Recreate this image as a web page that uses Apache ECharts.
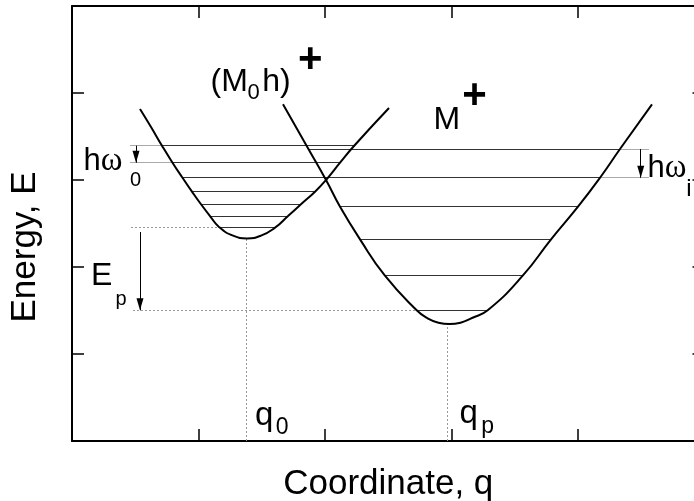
<!DOCTYPE html>
<html>
<head>
<meta charset="utf-8">
<script src="https://cdn.jsdelivr.net/npm/echarts@6/dist/echarts.min.js"></script>
<style>html,body{margin:0;padding:0;background:#fff}#c{width:694px;height:501px}</style>
</head>
<body>
<div id="c"></div>
<script>
// ---- potential curves (coordinate q, energy E) ----
const curveM0hX = [0.5375,0.6245,0.7115,0.7945,0.8735,0.9486,1.0198,1.0909,1.1621,1.273,1.383,1.494,1.605,1.7075,1.810,1.921,2.008,2.119,2.229,2.506];
const curveM0hY = [3.816,3.609,3.394,3.199,3.026,2.866,2.721,2.586,2.460,2.360,2.329,2.360,2.452,2.586,2.721,2.866,3.0,3.199,3.391,3.828];
const curveMX = [1.668,1.869,2.008,2.119,2.277,2.474,2.725,2.806,2.897,2.984,3.071,3.162,3.286,3.563,3.787,4.0,4.174,4.332,4.585];
const curveMY = [3.870,3.356,3.0,2.693,2.318,1.900,1.502,1.414,1.360,1.345,1.360,1.414,1.502,1.900,2.318,2.693,3.026,3.356,3.870];

// ---- vibrational levels: energy, q start, q end ----
const levelE  = [3.394,3.199,3.026,2.866,2.721,2.586,2.452,3.356,2.693,2.318,1.900,1.502];
const levelQ1 = [0.7115,0.7945,0.8735,0.9486,1.0198,1.0909,1.1621,1.869,2.119,2.277,2.474,2.725];
const levelQ2 = [2.229,2.119,4.174,1.921,1.810,1.7075,1.605,4.332,4.0,3.787,3.563,3.286];

// ---- marker extension lines (quanta) ----
const extE  = [3.394,3.199,3.356,3.026];
const extQ1 = [0.4585,0.4585,4.332,4.174];
const extQ2 = [0.7115,0.7945,4.561,4.561];

// ---- dotted guides: [q1,E1,q2,E2] ----
const guideQ1 = [0.4664,0.482,1.3755,2.970];
const guideE1 = [2.452,1.502,0,0];
const guideQ2 = [1.1621,2.725,1.3755,2.970];
const guideE2 = [2.452,1.502,2.329,1.345];

// ---- arrows: q, from E, to E ----
const arrowQ = [0.506,4.496,0.5375];
const arrowFrom = [3.394,3.356,2.402];
const arrowTo = [3.199,3.026,1.502];

// ---- annotations ----
const labelText = ['(M','0','h)','+','M','+','hω','0','hω','i','E','p','q','0','q','p'];
const labelQ = [1.099,1.391,1.508,1.790,2.862,3.089,0.0949,0.4625,4.553,4.860,0.154,0.348,1.4506,1.615,3.067,3.240];
const labelE = [4.121,4.000,4.121,4.374,3.684,3.956,3.207,2.983,3.126,2.885,1.891,1.616,0.277,0.150,0.309,0.160];
const labelRole = ['big','subm','big','plus','big','plus','hw','sub','hw','subi','big','sub','q','subq','q','subq'];

const FONT = '"Liberation Sans", Arial, sans-serif';
const roleStyle = {
  big:  {fontSize:32},
  sub:  {fontSize:20},
  subm: {fontSize:22},
  subi: {fontSize:24},
  q:    {fontSize:33},
  subq: {fontSize:23},
  plus: {fontSize:42, fontWeight:'bold'},
  hw:   {fontSize:31}
};

const chart = echarts.init(document.getElementById('c'));

const zip = (a,b) => a.map((v,i)=>[v,b[i]]);

const levelData = levelE.map((e,i)=>({coords:[[levelQ1[i],e],[levelQ2[i],e]]}));
const extData = extE.map((e,i)=>({coords:[[extQ1[i],e],[extQ2[i],e]]}));
const guideData = guideQ1.map((q,i)=>({coords:[[q,guideE1[i]],[guideQ2[i],guideE2[i]]]}));
const shaftData = arrowQ.map((q,i)=>({coords:[[q,arrowFrom[i]],[q,arrowTo[i]]]}));
const headData = arrowQ.map((q,i)=>[q,arrowTo[i]]);

const labelData = labelText.map((t,i)=>{
  const role = labelRole[i];
  const lab = Object.assign({show:true, position:[0,0], align:'left', verticalAlign:'middle', color:'#000', fontFamily:FONT}, roleStyle[role]);
  if (role === 'hw') {
    lab.formatter = '{h|' + t[0] + '}{w|' + t.slice(1) + '}';
    lab.rich = {h:{fontSize:31, fontFamily:FONT, color:'#000'}, w:{fontSize:33, fontFamily:'"Liberation Serif", serif', color:'#000'}};
  } else {
    lab.formatter = t;
  }
  return {value:[labelQ[i], labelE[i]], label:lab};
});

const axisCommon = {
  type:'value', min:0, max:5, interval:1,
  axisLine:{show:true, onZero:false, lineStyle:{color:'#000', width:2}},
  axisTick:{show:true, inside:true, length:12, lineStyle:{color:'#000', width:1.5}},
  axisLabel:{show:false},
  splitLine:{show:false}
};

chart.setOption({
  backgroundColor:'#fff',
  animation:false,
  grid:{left:72, top:6, width:632.5, height:435, containLabel:false, outerBoundsMode:'none'},
  xAxis:[
    Object.assign({}, axisCommon, {position:'bottom', name:'Coordinate, q', nameLocation:'middle', nameGap:26,
      nameTextStyle:{fontSize:35, fontFamily:FONT, color:'#000'}}),
    Object.assign({}, axisCommon, {position:'top'})
  ],
  yAxis:[
    Object.assign({}, axisCommon, {position:'left'}),
    Object.assign({}, axisCommon, {position:'right'})
  ],
  graphic:[{type:'text', x:25, y:247, rotation:Math.PI/2,
    style:{text:'Energy, E', font:'35px "Liberation Sans", Arial, sans-serif', fill:'#000', align:'center', verticalAlign:'middle'}}],
  series:[
    {type:'lines', coordinateSystem:'cartesian2d', data:guideData, silent:true,
      lineStyle:{color:'#999', width:1, type:[2,2], opacity:1, curveness:0}},
    {type:'lines', coordinateSystem:'cartesian2d', data:extData, silent:true,
      lineStyle:{color:'#aaa', width:1, opacity:1, curveness:0}},
    {type:'lines', coordinateSystem:'cartesian2d', data:levelData, silent:true,
      lineStyle:{color:'#333', width:1, opacity:1, curveness:0}},
    {type:'line', data:zip(curveM0hX, curveM0hY), smooth:0.5, showSymbol:false, silent:true,
      lineStyle:{color:'#000', width:2}},
    {type:'line', data:zip(curveMX, curveMY), smooth:0.5, showSymbol:false, silent:true,
      lineStyle:{color:'#000', width:2}},
    {type:'lines', coordinateSystem:'cartesian2d', data:shaftData, silent:true,
      lineStyle:{color:'#000', width:1, opacity:1, curveness:0}},
    {type:'scatter', data:headData, symbol:'triangle', symbolSize:[7,12], symbolRotate:180, symbolOffset:[0,-6],
      silent:true, itemStyle:{color:'#000', opacity:1}},
    {type:'scatter', data:labelData, symbol:'circle', symbolSize:1, silent:true,
      itemStyle:{color:'rgba(0,0,0,0)', opacity:1}}
  ]
});
</script>
</body>
</html>
